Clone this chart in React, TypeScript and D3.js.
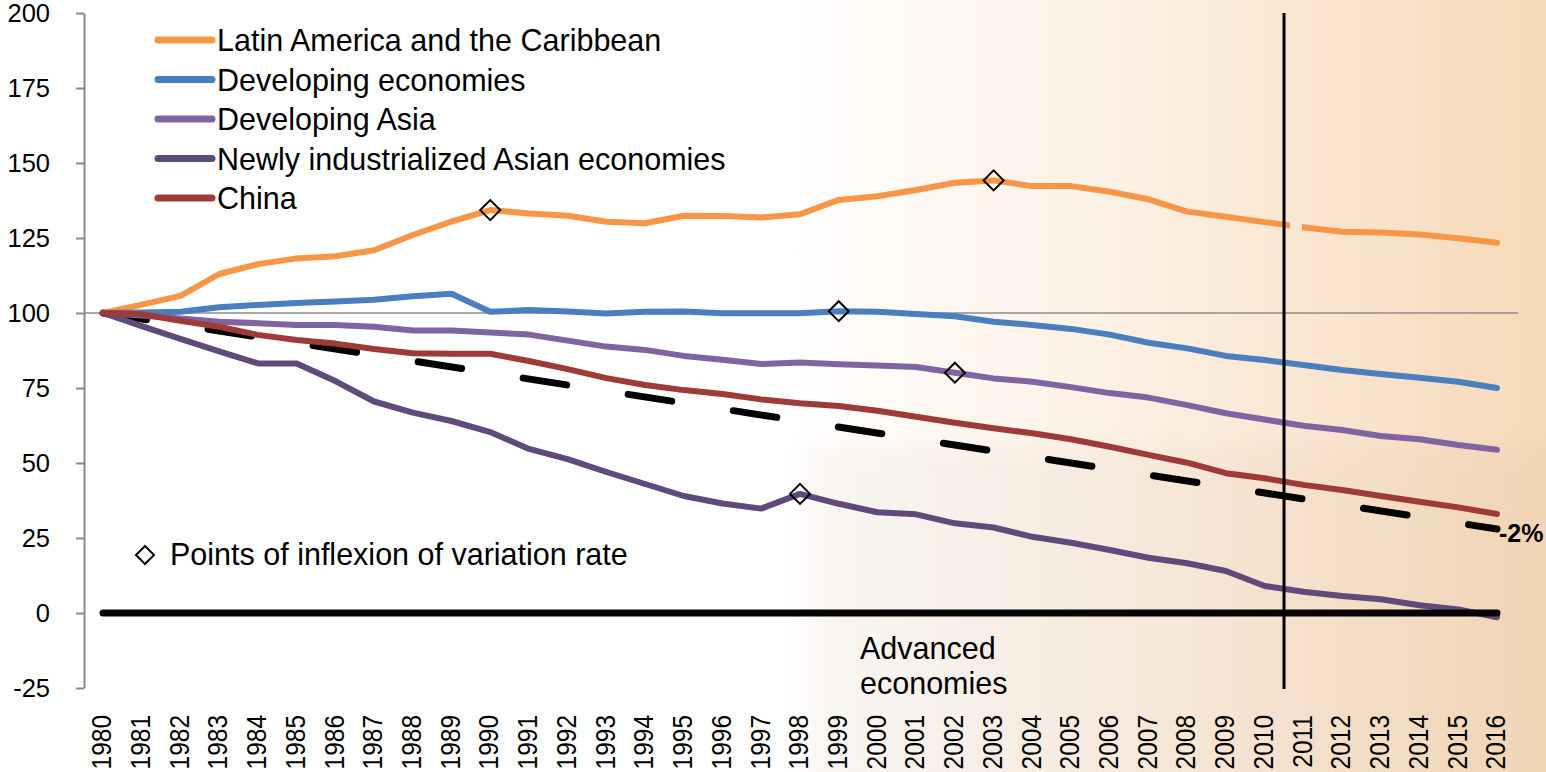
import React, { useEffect, useRef } from 'react';
import * as d3 from 'd3';

// categories
const years = [
  1980, 1981, 1982, 1983, 1984, 1985, 1986, 1987, 1988, 1989,
  1990, 1991, 1992, 1993, 1994, 1995, 1996, 1997, 1998, 1999,
  2000, 2001, 2002, 2003, 2004, 2005, 2006, 2007, 2008, 2009,
  2010, 2011, 2012, 2013, 2014, 2015, 2016,
];

// series values (index, 1980 = 100)
const latinAmerica = [
  100, 102.8, 105.7, 113, 116.3, 118.2, 118.9, 120.9, 126, 130.5,
  134.3, 133.2, 132.4, 130.4, 129.9, 132.4, 132.3, 131.8, 132.9, 137.7,
  138.9, 141, 143.4, 144.2, 142.3, 142.3, 140.4, 137.9, 133.8, 132.1,
  130.3, 128.6, 127.1, 126.8, 126.2, 124.9, 123.4,
];
const developingEconomies = [
  100, 100.2, 100.4, 101.9, 102.7, 103.3, 103.8, 104.4, 105.6, 106.4,
  100.4, 101, 100.5, 99.8, 100.4, 100.5, 99.9, 99.9, 99.9, 100.6,
  100.4, 99.7, 98.9, 97.1, 96, 94.7, 92.8, 90.1, 88.2, 85.7,
  84.3, 82.7, 81, 79.7, 78.4, 77.1, 75,
];
const developingAsia = [
  100, 99.2, 98.2, 97.1, 96.6, 96, 96, 95.4, 94.2, 94.2,
  93.5, 92.8, 90.8, 88.8, 87.7, 85.7, 84.4, 83, 83.5, 82.9,
  82.5, 82, 80.1, 78.2, 77.1, 75.3, 73.3, 71.8, 69.3, 66.6,
  64.5, 62.4, 61, 59, 57.9, 56, 54.4,
];
const newlyIndustrialized = [
  100, 95.6, 91.4, 87.2, 83.2, 83.2, 77.3, 70.5, 66.8, 64,
  60.3, 54.7, 51.3, 47, 43, 39, 36.5, 34.8, 39.7, 36.4,
  33.6, 32.9, 29.9, 28.5, 25.4, 23.4, 21, 18.4, 16.6, 14,
  9, 7.1, 5.7, 4.6, 2.6, 1.2, -1.4,
];
const china = [
  100, 99.6, 97.4, 95.4, 92.7, 91, 89.8, 88, 86.6, 86.4,
  86.4, 84, 81.3, 78.3, 76, 74.3, 73, 71.2, 69.9, 69,
  67.4, 65.4, 63.4, 61.6, 59.9, 57.9, 55.4, 52.7, 50.1, 46.6,
  44.9, 42.7, 41, 39, 37.1, 35.2, 33,
];

// -2% per year reference (dashed) and advanced economies (0 line)
const trendYears = [1980, 2016];
const trendValues = [100, 28];
const advancedYears = [1980, 2016];
const advancedValues = [0, 0];

const seriesNames = [
  'Latin America and the Caribbean',
  'Developing economies',
  'Developing Asia',
  'Newly industrialized Asian economies',
  'China',
];
const seriesColors = ['#F79646', '#4A7EBF', '#8064A2', '#604A7B', '#9E3A38'];
const seriesData = [latinAmerica, developingEconomies, developingAsia, newlyIndustrialized, china];

// points of inflexion: [series index, year]
const inflexionSeries = [0, 0, 1, 2, 3];
const inflexionYears = [1990, 2003, 1999, 2002, 1998];

const yTicks = [-25, 0, 25, 50, 75, 100, 125, 150, 175, 200];

const FONT = '"Liberation Sans", Arial, sans-serif';

const W = 1546;
const H = 772;

const App: React.FC = () => {
  const ref = useRef<SVGSVGElement>(null);

  useEffect(() => {
    if (!ref.current) return;
    const svg = d3.select(ref.current);
    svg.selectAll('*').remove();

    const x = d3.scaleLinear().domain([1980, 2016]).range([103, 1497]);
    const y = d3.scaleLinear().domain([-25, 200]).range([688, 13]);

    // background wash
    const defs = svg.append('defs');
    const grad = defs.append('linearGradient')
      .attr('id', 'bg')
      .attr('gradientUnits', 'userSpaceOnUse')
      .attr('x1', 780).attr('x2', W).attr('y1', 0).attr('y2', 0);
    grad.append('stop').attr('offset', 0).attr('stop-color', '#ffffff');
    grad.append('stop').attr('offset', 0.45).attr('stop-color', '#FCF0E3');
    grad.append('stop').attr('offset', 1).attr('stop-color', '#F6D9B9');
    defs.append('filter').attr('id', 'soft')
      .attr('x', '-10%').attr('y', '-10%').attr('width', '120%').attr('height', '120%')
      .append('feGaussianBlur').attr('stdDeviation', 10);

    svg.append('rect').attr('width', W).attr('height', H).attr('fill', '#fff');
    svg.append('rect').attr('x', 780).attr('width', W - 780).attr('height', H).attr('fill', 'url(#bg)');
    svg.append('rect')
      .attr('x', 805).attr('y', 445).attr('width', 760).attr('height', 360)
      .attr('fill', '#b8a08a').attr('opacity', 0.07).attr('filter', 'url(#soft)');

    // clip for the break in the Latin America line
    const clip = defs.append('clipPath').attr('id', 'gap');
    clip.append('rect').attr('x', 0).attr('y', 0).attr('width', 1290).attr('height', H);
    clip.append('rect').attr('x', 1302).attr('y', 0).attr('width', W - 1302).attr('height', H);

    // y axis
    const yAxis = svg.append('g')
      .attr('transform', 'translate(84,0)')
      .call(d3.axisLeft(y).tickValues(yTicks).tickFormat(d => String(d))
        .tickSize(8).tickSizeOuter(0).tickPadding(26));
    yAxis.select('.domain').attr('stroke', '#8a8a8a').attr('stroke-width', 2);
    yAxis.selectAll('.tick line').attr('stroke', '#8a8a8a').attr('stroke-width', 2);
    yAxis.selectAll('.tick text')
      .attr('fill', '#000')
      .attr('font-size', 25.5)
      .attr('font-family', FONT);

    // 100 reference line
    svg.append('line')
      .attr('x1', 84).attr('x2', 1518)
      .attr('y1', y(100)).attr('y2', y(100))
      .attr('stroke', '#8c8c8c').attr('stroke-width', 1.5);

    // x labels
    svg.append('g')
      .selectAll('text')
      .data(years)
      .join('text')
      .attr('transform', d => `translate(${x(d) + 1},715) rotate(-90) scale(1,1.12)`)
      .attr('text-anchor', 'end')
      .attr('dominant-baseline', 'middle')
      .attr('font-size', 24.5)
      .attr('font-family', FONT)
      .attr('fill', '#000')
      .text(d => d);

    // dashed -2% line
    const line2 = d3.line<number>()
      .x((d, i) => x(trendYears[i]))
      .y(d => y(d));
    svg.append('path')
      .datum(trendValues)
      .attr('d', line2)
      .attr('fill', 'none')
      .attr('stroke', '#000')
      .attr('stroke-width', 7)
      .attr('stroke-linecap', 'round')
      .attr('stroke-dasharray', '44 62.3');

    // series
    const line = d3.line<number>()
      .x((d, i) => x(years[i]))
      .y(d => y(d));
    seriesData.forEach((s, i) => {
      svg.append('path')
        .datum(s)
        .attr('d', line)
        .attr('fill', 'none')
        .attr('stroke', seriesColors[i])
        .attr('stroke-width', 6)
        .attr('stroke-linejoin', 'round')
        .attr('stroke-linecap', 'round')
        .attr('clip-path', i === 0 ? 'url(#gap)' : null);
    });

    // advanced economies (0 line)
    const line0 = d3.line<number>()
      .x((d, i) => x(advancedYears[i]))
      .y(d => y(d));
    svg.append('path')
      .datum(advancedValues)
      .attr('d', line0)
      .attr('fill', 'none')
      .attr('stroke', '#050505')
      .attr('stroke-width', 7)
      .attr('stroke-linecap', 'round');

    // vertical divider between 2010 and 2011
    svg.append('line')
      .attr('x1', x(2010.5)).attr('x2', x(2010.5))
      .attr('y1', 13).attr('y2', 689)
      .attr('stroke', '#000').attr('stroke-width', 3);

    // inflexion markers
    const diamond = (cx: number, cy: number, r: number) =>
      `M${cx},${cy - r}L${cx + r},${cy}L${cx},${cy + r}L${cx - r},${cy}Z`;
    inflexionYears.forEach((yr, k) => {
      const s = seriesData[inflexionSeries[k]];
      const v = s[years.indexOf(yr)];
      svg.append('path')
        .attr('d', diamond(x(yr), y(v), 10))
        .attr('fill', 'none')
        .attr('stroke', '#000')
        .attr('stroke-width', 2);
    });

    // legend
    const leg = svg.append('g');
    seriesNames.forEach((name, i) => {
      const ly = 40 + i * 39.5;
      leg.append('line')
        .attr('x1', 158).attr('x2', 212)
        .attr('y1', ly).attr('y2', ly)
        .attr('stroke', seriesColors[i])
        .attr('stroke-width', 7)
        .attr('stroke-linecap', 'round');
      leg.append('text')
        .attr('x', 217).attr('y', ly + 11)
        .attr('font-size', 30.5)
        .attr('font-family', FONT)
        .attr('fill', '#000')
        .text(name);
    });

    svg.append('path')
      .attr('d', diamond(145, 555, 9))
      .attr('fill', 'none').attr('stroke', '#000').attr('stroke-width', 2);
    svg.append('text')
      .attr('x', 170).attr('y', 565)
      .attr('font-size', 30.5)
      .attr('font-family', FONT)
      .attr('fill', '#000')
      .text('Points of inflexion of variation rate');

    // annotations
    const adv = svg.append('text')
      .attr('font-size', 30.5)
      .attr('font-family', FONT)
      .attr('fill', '#000');
    adv.append('tspan').attr('x', 860).attr('y', 659).text('Advanced');
    adv.append('tspan').attr('x', 860).attr('y', 694).text('economies');

    svg.append('text')
      .attr('x', 1499).attr('y', 542)
      .attr('font-size', 25)
      .attr('font-weight', 'bold')
      .attr('font-family', FONT)
      .attr('fill', '#000')
      .text('-2%');
  }, []);

  return (
    <div style={{ position: 'absolute', left: 0, top: 0 }}>
      <svg ref={ref} width={W} height={H} style={{ display: 'block' }} />
    </div>
  );
};

export default App;
